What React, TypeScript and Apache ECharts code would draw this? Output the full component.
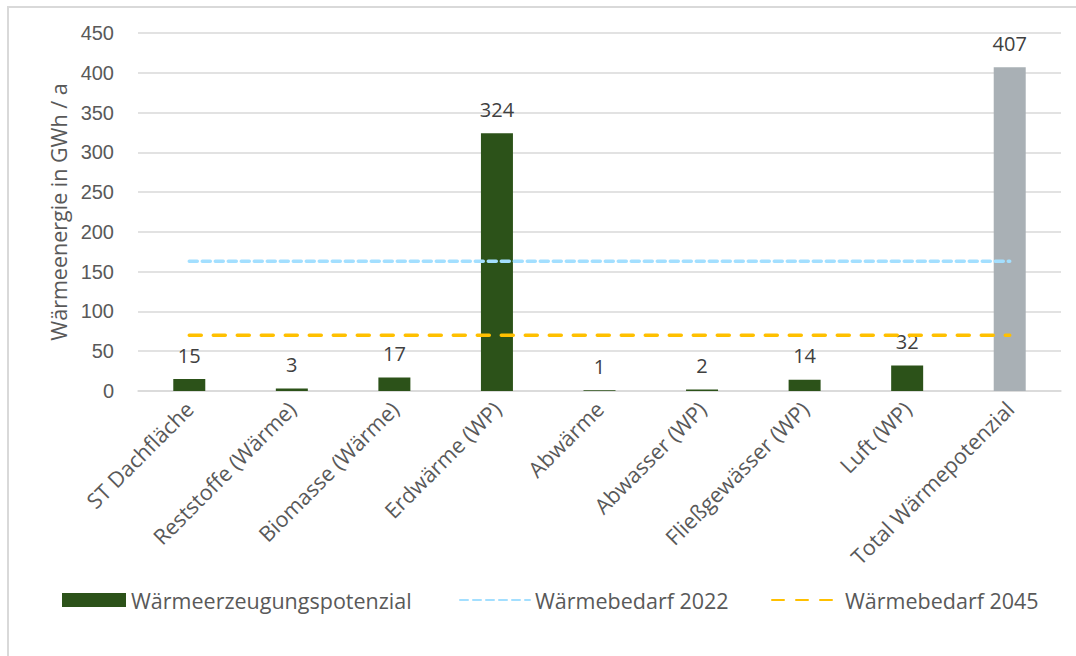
import React, { useEffect, useRef } from "react";
import * as echarts from "echarts";

const categories = [
  "ST Dachfläche",
  "Reststoffe (Wärme)",
  "Biomasse (Wärme)",
  "Erdwärme (WP)",
  "Abwärme",
  "Abwasser (WP)",
  "Fließgewässer (WP)",
  "Luft (WP)",
  "Total Wärmepotenzial",
];
const potenzial = [15, 3, 17, 324, 1, 2, 14, 32, 407];
const bedarf2022 = [163, 163, 163, 163, 163, 163, 163, 163, 163];
const bedarf2045 = [70, 70, 70, 70, 70, 70, 70, 70, 70];
const yTicks = { min: 0, max: 450, interval: 50 };

const GREEN = "#2c5219";
const GREY = "#a9b0b5";
const BLUE = "#a3dfff";
const YELLOW = "#ffc000";
const LABEL_FONT = "'Open Sans', sans-serif";

export default function App() {
  const ref = useRef<HTMLDivElement>(null);
  useEffect(() => {
    document.body.style.margin = "0";
    const chart = echarts.init(ref.current!, null, { renderer: "svg" });
    const legendText = { color: "#595959", fontSize: 21.5, fontFamily: LABEL_FONT };
    chart.setOption({
      animation: false,
      backgroundColor: "#ffffff",
      graphic: [
        {
          type: "rect",
          shape: { x: 8, y: 7, width: 1200, height: 800 },
          style: { fill: "none", stroke: "#d9d9d9", lineWidth: 2 },
          silent: true,
        },
      ],
      grid: { left: 138, right: 15, top: 33, bottom: 265, containLabel: false },
      legend: [
        {
          left: 62, top: 589, padding: 0, itemWidth: 64, itemHeight: 14,
          data: [{ name: "Wärmeerzeugungspotenzial", icon: "rect" }], textStyle: legendText,
        },
        {
          left: 459, top: 589, padding: 0, itemWidth: 70, itemHeight: 14,
          itemStyle: { opacity: 0 },
          data: ["Wärmebedarf 2022"], textStyle: legendText,
        },
        {
          left: 771, top: 589, padding: 0, itemWidth: 68, itemHeight: 14,
          itemStyle: { opacity: 0 },
          data: ["Wärmebedarf 2045"], textStyle: legendText,
        },
      ],
      xAxis: {
        type: "category",
        data: categories,
        boundaryGap: true,
        axisLine: { show: true, lineStyle: { color: "#d9d9d9", width: 1.5 } },
        axisTick: { show: false },
        axisLabel: {
          rotate: 45,
          interval: 0,
          margin: 14,
          color: "#595959",
          fontSize: 21.5,
          fontFamily: LABEL_FONT,
        },
      },
      yAxis: {
        type: "value",
        min: yTicks.min,
        max: yTicks.max,
        interval: yTicks.interval,
        name: "Wärmeenergie in GWh / a",
        nameLocation: "middle",
        nameGap: 68,
        nameTextStyle: { color: "#595959", fontSize: 21.5, fontFamily: LABEL_FONT },
        axisLine: { show: false },
        axisTick: { show: false },
        splitLine: { lineStyle: { color: "#d9d9d9", width: 1.5 } },
        axisLabel: {
          margin: 24,
          color: "#595959",
          fontSize: 20,
          fontFamily: "'Liberation Sans', Arial, sans-serif",
        },
      },
      series: [
        {
          name: "Wärmeerzeugungspotenzial",
          type: "bar",
          barWidth: 32,
          itemStyle: { color: GREEN },
          data: potenzial.map((v, i) =>
            i === potenzial.length - 1 ? { value: v, itemStyle: { color: GREY } } : v
          ),
          label: {
            show: true,
            position: "top",
            distance: 14,
            color: "#404040",
            fontSize: 20,
            fontFamily: LABEL_FONT,
          },
          z: 1,
        },
        {
          name: "Wärmebedarf 2022",
          type: "line",
          data: bedarf2022,
          symbol: "none",
          lineStyle: { color: BLUE, width: 3.5, type: [8, 5], cap: "round" },
          itemStyle: { color: BLUE },
          z: 3,
        },
        {
          name: "Wärmebedarf 2045",
          type: "line",
          data: bedarf2045,
          symbol: "none",
          lineStyle: { color: YELLOW, width: 3.5, type: [12, 12], cap: "round" },
          itemStyle: { color: YELLOW },
          z: 3,
        },
      ],
    });
    return () => chart.dispose();
  }, []);
  return <div ref={ref} style={{ width: 1076, height: 656 }} />;
}
